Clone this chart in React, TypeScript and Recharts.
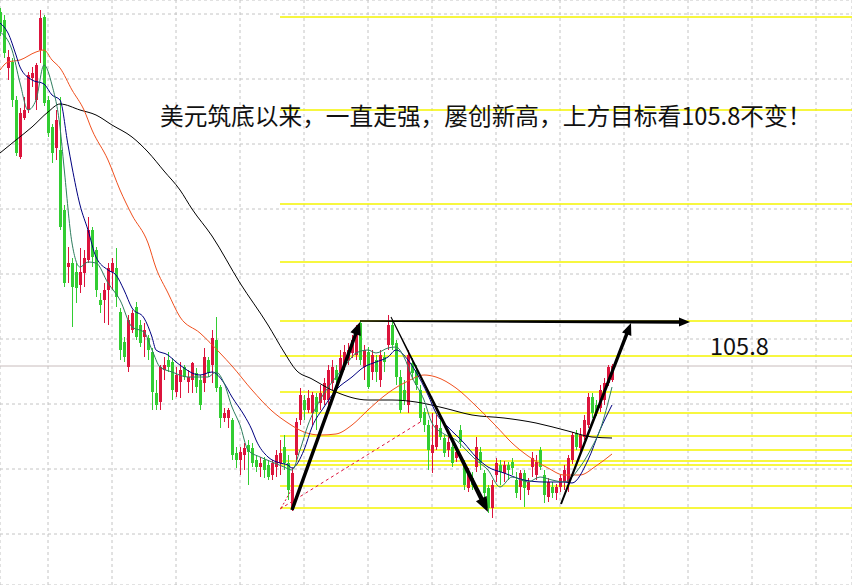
import React from 'react';
import { ComposedChart, Bar, Line, XAxis, YAxis, CartesianGrid, ReferenceLine, ReferenceDot } from 'recharts';

const opens = [
  108.90,108.82,108.34,108.40,108.02,107.45,107.84,107.92,108.24,108.02,
  108.52,108.85,108.02,107.75,107.54,107.52,106.92,106.35,106.39,106.30,
  106.17,106.29,106.42,106.72,106.52,106.02,106.02,106.12,106.30,106.34,
  105.90,105.60,105.35,105.72,105.95,105.77,105.65,105.64,105.50,105.09,
  105.00,105.32,105.42,105.40,105.10,105.20,105.35,105.20,105.22,105.29,
  105.22,105.19,105.42,105.37,105.62,105.15,104.84,104.84,104.82,104.49,
  104.42,104.47,104.57,104.54,104.42,104.35,104.42,104.37,104.27,104.35,
  104.39,104.55,104.39,103.94,104.47,104.82,105.02,104.92,104.89,105.05,
  104.99,105.02,105.02,105.19,105.32,105.29,105.37,105.42,105.49,105.47,
  105.79,105.35,105.50,105.30,105.42,105.22,105.45,105.57,105.77,105.59,
  105.25,105.12,104.97,105.39,105.32,105.12,104.90,104.77,104.49,104.55,
  104.74,104.64,104.52,104.55,104.44,104.72,104.39,104.14,104.24,104.35,
  104.50,104.29,104.14,103.94,104.27,104.37,104.29,104.37,104.40,104.22,
  104.15,104.29,104.12,104.35,104.27,104.52,104.27,104.05,104.15,104.09,
  104.15,104.20,104.20,104.42,104.69,104.54,104.65,104.77,105.05,104.97,
  104.94,105.02,105.19,105.22,
];
const highs = [
  108.94,108.87,108.52,108.44,108.06,107.94,108.05,108.30,108.35,108.39,
  108.92,108.87,108.06,107.78,107.92,108.05,106.97,106.55,106.44,106.39,
  106.54,106.52,106.85,106.75,106.55,106.09,106.19,106.39,106.44,106.54,
  105.94,105.65,105.87,105.92,106.00,105.82,105.79,105.67,105.54,105.22,
  105.37,105.45,105.50,105.44,105.35,105.40,105.37,105.32,105.40,105.34,
  105.27,105.54,105.45,105.72,105.85,105.17,104.94,104.94,104.84,104.55,
  104.55,104.59,104.62,104.59,104.47,104.45,104.45,104.42,104.42,104.52,
  104.62,104.67,104.47,104.34,104.84,105.14,105.07,105.12,105.10,105.09,
  105.17,105.24,105.37,105.42,105.37,105.52,105.57,105.59,105.67,105.77,
  105.81,105.57,105.55,105.52,105.47,105.52,105.50,105.87,105.82,105.62,
  105.32,105.22,105.52,105.44,105.37,105.17,104.94,104.82,104.89,104.87,
  104.84,104.67,104.65,104.62,104.55,104.77,104.42,104.34,104.30,104.65,
  104.55,104.32,104.17,104.22,104.44,104.42,104.41,104.40,104.44,104.30,
  104.32,104.32,104.24,104.50,104.47,104.55,104.32,104.24,104.20,104.18,
  104.27,104.37,104.47,104.70,104.72,104.74,104.87,105.09,105.09,105.02,
  105.17,105.24,105.37,105.38,
];
const lows = [
  108.66,108.44,108.22,107.95,107.46,107.43,107.82,107.89,108.15,107.92,
  108.39,107.96,107.65,107.39,107.42,106.72,106.15,106.19,105.75,105.99,
  106.09,106.15,106.39,106.35,106.05,105.89,105.79,105.77,106.12,105.95,
  105.42,105.40,105.30,105.69,105.62,105.55,105.45,105.42,104.92,104.92,
  104.92,105.22,105.30,105.02,105.05,105.04,105.22,105.09,105.09,105.09,
  104.92,105.10,105.25,105.19,105.10,104.74,104.80,104.74,104.42,104.34,
  104.27,104.32,104.17,104.35,104.30,104.25,104.24,104.22,104.22,104.25,
  104.27,104.32,104.02,103.91,104.42,104.77,104.82,104.89,104.77,104.72,
  104.92,104.97,104.97,105.12,105.17,105.22,105.32,105.37,105.44,105.42,
  105.37,105.22,105.13,105.22,105.20,105.15,105.30,105.52,105.52,105.17,
  104.89,104.97,104.89,105.22,105.12,104.80,104.70,104.32,104.29,104.52,
  104.62,104.45,104.45,104.35,104.40,104.54,104.12,104.10,104.12,104.30,
  104.32,104.05,103.89,103.84,104.20,104.17,104.20,104.22,104.27,104.04,
  104.02,103.95,104.07,104.25,104.22,104.32,103.99,104.00,104.04,104.02,
  104.10,104.12,104.10,104.38,104.52,104.50,104.62,104.74,104.84,104.86,
  104.90,104.97,105.16,105.20,
];
const closes = [
  108.70,108.49,108.45,108.02,107.49,107.89,107.92,108.27,108.29,108.37,
  108.84,107.99,107.69,107.49,107.82,106.75,106.19,106.39,106.15,106.14,
  106.30,106.44,106.72,106.45,106.12,105.97,106.12,106.34,106.39,106.05,
  105.52,105.45,105.82,105.89,105.65,105.59,105.72,105.52,105.10,104.97,
  105.35,105.37,105.35,105.12,105.27,105.32,105.25,105.25,105.39,105.15,
  104.97,105.45,105.29,105.64,105.14,104.84,104.89,104.92,104.47,104.42,
  104.50,104.54,104.50,104.39,104.35,104.39,104.32,104.25,104.39,104.47,
  104.49,104.39,104.12,104.29,104.80,105.07,104.92,105.04,105.07,104.90,
  105.09,105.19,105.32,105.35,105.22,105.44,105.50,105.52,105.62,105.72,
  105.42,105.52,105.15,105.47,105.30,105.47,105.40,105.77,105.57,105.25,
  104.92,105.02,105.47,105.29,105.17,104.84,104.77,104.52,104.57,104.77,
  104.65,104.49,104.60,104.39,104.50,104.60,104.17,104.29,104.17,104.55,
  104.39,104.09,103.94,104.17,104.39,104.30,104.37,104.32,104.34,104.09,
  104.29,104.14,104.20,104.44,104.40,104.35,104.07,104.20,104.09,104.15,
  104.24,104.32,104.44,104.67,104.55,104.67,104.82,105.05,104.89,104.90,
  105.12,105.19,105.35,105.36,
];

// moving averages: [candle index, value]
const ma5Points: [number, number][] = [
  [0,108.70],[3,108.52],[5,108.19],[7,107.92],[9,108.02],[11,108.37],[13,108.17],[15,107.75],[16,107.35],
  [18,106.59],[20,106.35],[22,106.40],[24,106.39],[27,106.19],[30,106.02],[33,105.75],[36,105.70],[38,105.52],
  [40,105.35],[43,105.30],[47,105.25],[52,105.25],[54,105.30],[56,105.19],[58,104.95],[60,104.77],[62,104.52],
  [65,104.45],[68,104.40],[71,104.35],[73,104.32],[75,104.52],[77,104.77],[80,105.02],[84,105.25],[87,105.40],
  [89,105.49],[92,105.52],[94,105.49],[97,105.54],[99,105.55],[101,105.45],[103,105.25],[106,105.02],[108,104.79],
  [111,104.68],[114,104.62],[117,104.50],[119,104.42],[122,104.32],[125,104.15],[128,104.25],[132,104.20],
  [135,104.25],[138,104.22],[141,104.20],[145,104.35],[148,104.55],[150,104.72],[153,105.15],
];
const ma10Points: [number, number][] = [
  [0,108.79],[2,108.69],[4,108.47],[5,108.35],[8,108.22],[11,108.18],[13,108.07],[15,108.02],[17,107.57],
  [18,107.35],[20,106.97],[22,106.72],[24,106.45],[27,106.32],[29,106.27],[31,106.12],[33,105.94],[36,105.84],
  [38,105.65],[39,105.52],[42,105.47],[44,105.40],[46,105.34],[48,105.29],[50,105.27],[53,105.30],[56,105.19],
  [58,105.05],[61,104.87],[63,104.72],[64,104.62],[67,104.45],[70,104.39],[72,104.37],[73,104.34],[76,104.52],
  [78,104.75],[81,104.95],[84,105.12],[88,105.25],[91,105.35],[94,105.40],[97,105.45],[99,105.52],[102,105.42],
  [104,105.30],[107,105.07],[109,104.89],[112,104.75],[116,104.59],[119,104.45],[122,104.35],[126,104.29],
  [131,104.22],[136,104.20],[141,104.20],[143,104.19],[147,104.42],[150,104.72],[153,104.97],
];
const ma30Points: [number, number][] = [
  [0,108.32],[2,108.40],[5,108.42],[9,108.50],[11,108.52],[13,108.42],[15,108.34],[18,108.12],[21,107.92],
  [23,107.72],[27,107.42],[30,107.12],[33,106.87],[37,106.59],[39,106.34],[42,106.09],[45,105.85],[50,105.69],
  [55,105.49],[58,105.36],[63,105.12],[68,104.91],[72,104.79],[76,104.70],[80,104.67],[84,104.68],[88,104.77],
  [92,104.92],[97,105.09],[102,105.21],[106,105.27],[109,105.25],[114,105.14],[119,104.96],[124,104.76],
  [128,104.59],[132,104.46],[137,104.34],[141,104.27],[145,104.27],[149,104.36],[153,104.48],
];
const ma60Points: [number, number][] = [
  [0,107.49],[4,107.62],[8,107.75],[12,107.90],[15,107.98],[20,107.92],[24,107.87],[28,107.77],[33,107.65],
  [37,107.50],[41,107.31],[45,107.12],[48,106.93],[53,106.66],[60,106.19],[67,105.77],[71,105.50],[74,105.32],
  [78,105.23],[84,105.10],[92,105.02],[98,105.02],[104,105.00],[111,104.94],[118,104.87],[126,104.84],
  [134,104.79],[142,104.71],[148,104.65],[153,104.64],
];

const yellowLevels = [108.85, 107.92, 106.98, 106.40, 105.81, 105.46, 105.10, 104.89, 104.66, 104.52, 104.41, 104.37, 104.16, 103.94];
const yellowStart = 70;
const lastPrice = 105.36;
const targetText = '105.8';
const headline = '美元筑底以来，一直走强，屡创新高，上方目标看105.8不变！';

const xTicks = [12, 28, 44, 60, 76, 92, 108, 124, 140, 156, 172, 188, 204];
const yTicks = [108.88, 108.23, 107.58, 106.93, 106.28, 105.63, 104.98, 104.33, 103.68];
const xDomain: [number, number] = [0, 213];
const yDomain: [number, number] = [103.17, 109.02];

// annotation arrows: start, end in data units
const arrowUp1 = [{ x: 73, y: 103.92 }, { x: 90, y: 105.8 }];
const arrowRight = [{ x: 90, y: 105.81 }, { x: 172.5, y: 105.8 }];
const arrowDown = [{ x: 97.75, y: 105.85 }, { x: 122, y: 103.9 }];
const arrowUp2 = [{ x: 140.25, y: 103.98 }, { x: 157.75, y: 105.79 }];
const redDash = [{ x: 70, y: 103.93 }, { x: 105.5, y: 104.81 }];
const redDashShort = [{ x: 70.3, y: 103.94 }, { x: 72.8, y: 104.12 }];

type Row = { i: number; open: number; high: number; low: number; close: number; ma5?: number; ma10?: number; ma30?: number; ma60?: number };
const data: Row[] = opens.map((o, i) => ({ i, open: o, high: highs[i], low: lows[i], close: closes[i] }));
ma5Points.forEach(([i, v]) => { data[i].ma5 = v; });
ma10Points.forEach(([i, v]) => { data[i].ma10 = v; });
ma30Points.forEach(([i, v]) => { data[i].ma30 = v; });
ma60Points.forEach(([i, v]) => { data[i].ma60 = v; });

const UP = '#dc143c';
const DOWN = '#32cd32';

const Candle = (props: any) => {
  const { x, y, width, height, payload } = props;
  if (!payload || x == null || y == null) return null;
  const { open, close, high, low } = payload;
  const color = close >= open ? UP : DOWN;
  const top = Math.min(y, y + height);
  const h = Math.abs(height);
  const k = h / (high - low || 1);
  const bodyTop = top + (high - Math.max(open, close)) * k;
  const bodyH = Math.max(1, Math.abs(open - close) * k);
  const cx = Math.round(x + width / 2) + 0.5;
  return (
    <g>
      <line x1={cx} x2={cx} y1={top} y2={top + h} stroke={color} strokeWidth={1} />
      <rect x={cx - 1.5} y={bodyTop} width={3} height={bodyH} fill={color} />
    </g>
  );
};

const makeArrow = (w0: number, w1: number, headLen: number, headHalf: number) => (p: any) => {
  const { x1, y1, x2, y2 } = p;
  if ([x1, y1, x2, y2].some((v) => v == null || Number.isNaN(v))) return <g />;
  const dx = x2 - x1;
  const dy = y2 - y1;
  const len = Math.sqrt(dx * dx + dy * dy) || 1;
  const ux = dx / len;
  const uy = dy / len;
  const nx = -uy;
  const ny = ux;
  const bx = x2 - ux * headLen;
  const by = y2 - uy * headLen;
  const pts = [
    [x1 + nx * w0 / 2, y1 + ny * w0 / 2],
    [bx + nx * w1 / 2, by + ny * w1 / 2],
    [bx + nx * headHalf, by + ny * headHalf],
    [x2, y2],
    [bx - nx * headHalf, by - ny * headHalf],
    [bx - nx * w1 / 2, by - ny * w1 / 2],
    [x1 - nx * w0 / 2, y1 - ny * w0 / 2],
  ];
  return <polygon points={pts.map((q) => q.join(',')).join(' ')} fill="#000" stroke="none" />;
};

const textShape = (value: string, size: number) => (p: any) => (
  <text x={p.cx} y={p.cy} fontSize={size} fill="#111" textAnchor="start"
    fontFamily='"Noto Sans CJK SC", "Noto Sans", sans-serif'>{value}</text>
);

export default function App() {
  return (
    <div style={{ position: 'absolute', left: 0, top: 0, width: 852, height: 585, background: '#fff' }}>
      <ComposedChart width={852} height={585} data={data} margin={{ top: 0, right: 0, bottom: 0, left: 0 }}>
        <CartesianGrid stroke="#c4c4c4" strokeDasharray="3 3" />
        <XAxis type="number" dataKey="i" domain={xDomain} ticks={xTicks} allowDataOverflow hide />
        <YAxis type="number" domain={yDomain} ticks={yTicks} allowDataOverflow hide />
        {yellowLevels.map((v, k) => (
          <ReferenceLine key={'y' + k} segment={[{ x: yellowStart, y: v }, { x: xDomain[1], y: v }]}
            stroke="#f5f500" strokeWidth={1.5} ifOverflow="visible" zIndex={150} />
        ))}
        <ReferenceLine y={lastPrice} stroke="#c8bcbc" strokeWidth={1} zIndex={150} />
        <ReferenceLine segment={redDash} stroke="#dc143c" strokeDasharray="3 3" strokeWidth={1} ifOverflow="visible" />
        <ReferenceLine segment={redDashShort} stroke="#dc143c" strokeDasharray="2 2" strokeWidth={1} ifOverflow="visible" />
        <Line dataKey="ma60" stroke="#000000" strokeWidth={1} dot={false} activeDot={false} connectNulls type="monotone" isAnimationActive={false} />
        <Line dataKey="ma30" stroke="#f0501e" strokeWidth={1} dot={false} activeDot={false} connectNulls type="monotone" isAnimationActive={false} />
        <Line dataKey="ma10" stroke="#000080" strokeWidth={1} dot={false} activeDot={false} connectNulls type="monotone" isAnimationActive={false} />
        <Line dataKey="ma5" stroke="#2e7d5e" strokeWidth={1} dot={false} activeDot={false} connectNulls type="monotone" isAnimationActive={false} />
        <Bar dataKey={(d: Row) => [d.low, d.high]} barSize={3} shape={Candle} activeBar={false} isAnimationActive={false} />
        <ReferenceLine segment={arrowUp1} shape={makeArrow(3.5, 3.5, 13, 5.5)} ifOverflow="visible" zIndex={1000} />
        <ReferenceLine segment={arrowRight} shape={makeArrow(1.5, 3.5, 11, 4.5)} ifOverflow="visible" zIndex={1000} />
        <ReferenceLine segment={arrowDown} shape={makeArrow(1, 4.5, 15, 6)} ifOverflow="visible" zIndex={1000} />
        <ReferenceLine segment={arrowUp2} shape={makeArrow(2, 3.5, 12, 5)} ifOverflow="visible" zIndex={1000} />
        <ReferenceDot x={40} y={107.77} r={0} shape={textShape(headline, 23.7)} ifOverflow="visible" zIndex={1100} />
        <ReferenceDot x={177.5} y={105.47} r={0} shape={textShape(targetText, 23.5)} ifOverflow="visible" zIndex={1100} />
      </ComposedChart>
    </div>
  );
}
